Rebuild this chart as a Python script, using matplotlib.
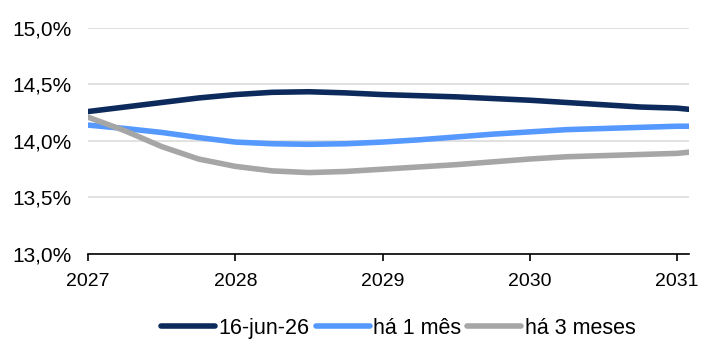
import numpy as np
import matplotlib.pyplot as plt
from matplotlib.ticker import FuncFormatter

plt.rcParams['font.family'] = ['Liberation Sans', 'DejaVu Sans']

# horizon (years) and rates, in %
anos = [2027.0, 2027.25, 2027.5, 2027.75, 2028.0, 2028.25, 2028.5, 2028.75, 2029.0,
        2029.25, 2029.5, 2029.75, 2030.0, 2030.25, 2030.5, 2030.75, 2031.0, 2031.08]
atual = [14.26, 14.30, 14.34, 14.38, 14.41, 14.43, 14.435, 14.425, 14.41,
         14.40, 14.39, 14.375, 14.36, 14.34, 14.32, 14.30, 14.29, 14.28]
um_mes = [14.14, 14.11, 14.075, 14.03, 13.99, 13.975, 13.97, 13.975, 13.99,
          14.01, 14.035, 14.06, 14.08, 14.10, 14.11, 14.12, 14.13, 14.13]
tres_meses = [14.21, 14.09, 13.95, 13.84, 13.775, 13.735, 13.72, 13.73, 13.75,
              13.77, 13.79, 13.815, 13.84, 13.86, 13.87, 13.88, 13.89, 13.90]

nomes = ["16-jun-26", "há 1 mês", "há 3 meses"]
cores = ["#0C2A5B", "#5599FF", "#A6A6A6"]
anos_ticks = [2027, 2028, 2029, 2030, 2031]
y_ticks = [13.0, 13.5, 14.0, 14.5, 15.0]

fig = plt.figure(figsize=(7.05, 3.4), dpi=100)
ax = fig.add_axes([0.125, 0.253, 0.852, 0.665])

for serie, nome, cor in zip([atual, um_mes, tres_meses], nomes, cores):
    ax.plot(anos, serie, color=cor, lw=4.0, label=nome,
            solid_capstyle='round', solid_joinstyle='round')

ax.set_xlim(2027, 2031.08)
ax.set_ylim(13.0, 15.0)
ax.set_xticks(anos_ticks)
ax.set_yticks(y_ticks)
ax.yaxis.set_major_formatter(FuncFormatter(lambda v, p: ("%.1f%%" % v).replace(".", ",")))

ax.grid(axis='y', color='#D9D9D9', lw=1.1)
ax.set_axisbelow(True)
for s in ['top', 'right', 'left']:
    ax.spines[s].set_visible(False)
ax.spines['bottom'].set_color('black')
ax.spines['bottom'].set_linewidth(1.2)
ax.tick_params(axis='y', length=0, labelsize=15, pad=12)
ax.tick_params(axis='x', length=5, width=1.2, direction='out', labelsize=14, pad=9)

ax.legend(loc='center', bbox_to_anchor=(0.565, 0.035), bbox_transform=fig.transFigure,
          ncol=3, frameon=False, fontsize=15.5, handlelength=2.5,
          handletextpad=0.15, columnspacing=0.3)

fig.savefig("out.png", dpi=100)
